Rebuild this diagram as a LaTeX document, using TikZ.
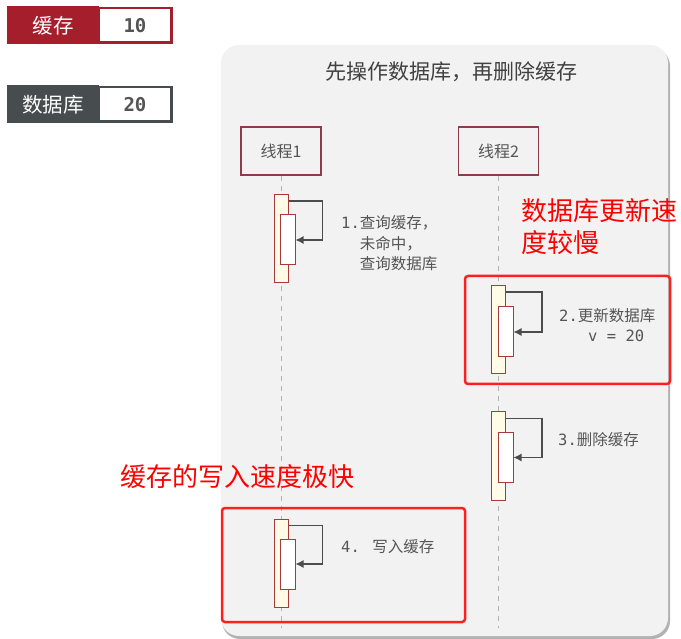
\documentclass[tikz,border=0pt]{standalone}
\usepackage{fontspec}
\setmainfont{Noto Sans CJK SC}
\newfontfamily\monofont{DejaVu Sans Mono}
\usetikzlibrary{arrows.meta}

\definecolor{cachered}{HTML}{A51E2B}
\definecolor{dbgray}{HTML}{474D4F}
\definecolor{panelgray}{HTML}{F2F2F2}
\definecolor{threadred}{HTML}{8E3B4B}
\definecolor{barred}{HTML}{A83A3A}
\definecolor{barfill}{HTML}{FFFBE6}
\definecolor{inkgray}{HTML}{555555}
\definecolor{hired}{HTML}{FF1F1F}

\tikzset{
  legkey/.style={fill=#1, text=white, minimum width=92, minimum height=38,
    inner sep=0, font=\fontsize{20.5}{24}\selectfont},
  legval/.style={draw=#1, line width=2, fill=white, minimum width=72, minimum height=34,
    inner sep=0, text=inkgray, font=\monofont\bfseries\fontsize{19}{22}\selectfont},
  thread/.style={draw=threadred, line width=1.6, fill=panelgray, minimum width=80,
    minimum height=48, text=inkgray, font=\fontsize{16}{19}\selectfont},
  outerbar/.style={draw=barred, line width=1, fill=barfill, minimum width=14,
    minimum height=88, inner sep=0},
  innerbar/.style={draw=barred, line width=1, fill=white, minimum width=15,
    minimum height=50, inner sep=0},
  lifeline/.style={draw=gray!60, line width=1, dash pattern=on 5 off 5},
  selfloop/.style={draw=black!70, line width=1.2, -{Latex[length=8,width=8]}},
  steptext/.style={anchor=west, inner sep=0, align=left, text=inkgray,
    font=\fontsize{15.5}{20.5}\selectfont},
  hilite/.style={draw=hired, line width=2.5, rounded corners=3},
  remark/.style={anchor=west, inner sep=0, align=left, text=red,
    font=\fontsize{26}{32}\selectfont}
}

\begin{document}
\begin{tikzpicture}[x=1pt,y=-1pt]
\useasboundingbox (0,0) rectangle (681,639);

% legend: cache and database values
\fill[cachered] (7,7) rectangle (173,44);
\node[legkey=cachered] (cachekey) at (53,25.5) {缓存};
\node[legval=cachered] (cacheval) at (135,25.5) {10};
\fill[dbgray] (7,86) rectangle (173,123);
\node[legkey=dbgray] (dbkey) at (53,104.5) {数据库};
\node[legval=dbgray] (dbval) at (135,104.5) {20};

% panel with shadow
\fill[black!30, rounded corners=18] (222,48) rectangle (670,639);
\fill[panelgray, rounded corners=18] (221,45) rectangle (668,636);
\node[text=black!75, font=\fontsize{21}{24}\selectfont] (title) at (451,72)
  {先操作数据库，再删除缓存};

% threads and lifelines
\node[thread] (t1) at (281,151) {线程1};
\node[thread] (t2) at (498.5,151) {线程2};
\coordinate (t1end) at (281,628);
\coordinate (t2end) at (498.5,628);
\draw[lifeline] (t1) -- (t1end);
\draw[lifeline] (t2) -- (t2end);

% activations
\node[outerbar] (a1o) at (281,238.5) {};
\node[innerbar] (a1i) at (287.5,240) {};
\node[outerbar] (a2o) at (498.5,329.5) {};
\node[innerbar] (a2i) at (505.5,332) {};
\node[outerbar] (a3o) at (498.5,456) {};
\node[innerbar] (a3i) at (505.5,457.5) {};
\node[outerbar] (a4o) at (281,563) {};
\node[innerbar] (a4i) at (287.5,564) {};

% self calls
\draw[selfloop] ([yshift=-7]a1o.north east) -- +(34,0) |- (a1i.east);
\draw[selfloop] ([yshift=-7]a2o.north east) -- +(36,0) |- (a2i.east);
\draw[selfloop] ([yshift=-7]a3o.north east) -- +(36,0) |- (a3i.east);
\draw[selfloop] ([yshift=-7]a4o.north east) -- +(34,0) |- (a4i.east);

\node[steptext] (s1) at (341,243.5)
  {{\monofont 1.}查询缓存，\\\phantom{\monofont 1.}未命中，\\\phantom{\monofont 1.}查询数据库};
\node[steptext] (s2) at (559,325)
  {{\monofont 2.}更新数据库\\\hspace*{29pt}{\monofont v = 20}};
\node[steptext] (s3) at (558,440) {{\monofont 3.}删除缓存};
\node[steptext] (s4) at (341,547) {{\monofont 4. }写入缓存};

% red highlights
\draw[hilite] (465,276) rectangle (670,384);
\draw[hilite] (222,508) rectangle (465,622);
\node[remark] (slowdb) at (521,227) {数据库更新速\\度较慢};
\node[remark] (fastcache) at (120,477) {缓存的写入速度极快};
\end{tikzpicture}
\end{document}
